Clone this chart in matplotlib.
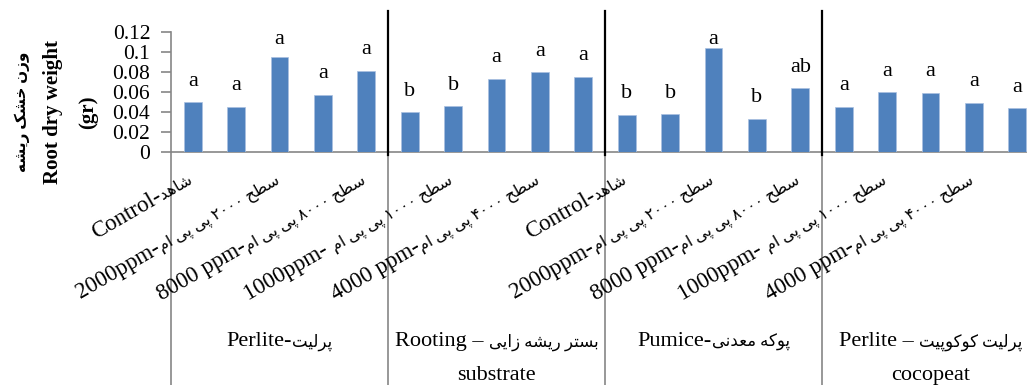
import re
import numpy as np
import matplotlib
matplotlib.use('Agg')
import matplotlib.pyplot as plt
from matplotlib.transforms import offset_copy

plt.rcParams['font.family'] = ['Liberation Serif', 'DejaVu Sans']

# substrates (latin part, persian part, second line)
group_latin = ['Perlite-', 'Rooting – ', 'Pumice-', 'Perlite – ']
group_fa = ['پرلیت', 'بستر ریشه زایی', 'پوکه معدنی', 'پرلیت کوکوپیت']
group_line2 = ['', 'substrate', '', 'cocopeat']

# treatments inside each substrate
cat_latin = ['Control-', '1000ppm- ', '2000ppm-', '4000 ppm-', '8000 ppm-']
cat_fa = ['شاهد', 'سطح ۱۰۰۰ پی پی ام', 'سطح ۲۰۰۰ پی پی ام',
          'سطح ۴۰۰۰ پی پی ام', 'سطح ۸۰۰۰ پی پی ام']

perlite = [0.050, 0.045, 0.095, 0.057, 0.081]
rooting = [0.040, 0.046, 0.073, 0.080, 0.075]
pumice = [0.037, 0.038, 0.104, 0.033, 0.064]
perlite_coco = [0.045, 0.060, 0.059, 0.049, 0.044]

letters_perlite = ['a', 'a', 'a', 'a', 'a']
letters_rooting = ['b', 'b', 'a', 'a', 'a']
letters_pumice = ['b', 'b', 'a', 'b', 'ab']
letters_perlite_coco = ['a', 'a', 'a', 'a', 'a']

yticks = [0, 0.02, 0.04, 0.06, 0.08, 0.1, 0.12]
ytick_labels = ['0', '0.02', '0.04', '0.06', '0.08', '0.1', '0.12']

ylabel_fa = 'وزن خشک ریشه'
ylabel_en = 'Root dry weight'
ylabel_unit = '(gr)'

# --- minimal persian shaping: (isolated, final, initial, medial)
FORMS = {
    'ا': (0xFE8D, 0xFE8E), 'د': (0xFEA9, 0xFEAA), 'ر': (0xFEAD, 0xFEAE),
    'ز': (0xFEAF, 0xFEB0), 'و': (0xFEED, 0xFEEE),
    'ب': (0xFE8F, 0xFE90, 0xFE91, 0xFE92), 'پ': (0xFB56, 0xFB57, 0xFB58, 0xFB59),
    'ت': (0xFE95, 0xFE96, 0xFE97, 0xFE98), 'ح': (0xFEA1, 0xFEA2, 0xFEA3, 0xFEA4),
    'خ': (0xFEA5, 0xFEA6, 0xFEA7, 0xFEA8), 'س': (0xFEB1, 0xFEB2, 0xFEB3, 0xFEB4),
    'ش': (0xFEB5, 0xFEB6, 0xFEB7, 0xFEB8), 'ط': (0xFEC1, 0xFEC2, 0xFEC3, 0xFEC4),
    'ع': (0xFEC9, 0xFECA, 0xFECB, 0xFECC), 'ک': (0xFB8E, 0xFB8F, 0xFB90, 0xFB91),
    'ل': (0xFEDD, 0xFEDE, 0xFEDF, 0xFEE0), 'م': (0xFEE1, 0xFEE2, 0xFEE3, 0xFEE4),
    'ن': (0xFEE5, 0xFEE6, 0xFEE7, 0xFEE8), 'ه': (0xFEE9, 0xFEEA, 0xFEEB, 0xFEEC),
    'ی': (0xFBFC, 0xFBFD, 0xFBFE, 0xFBFF),
}


def fa(text):
    out = []
    for i, ch in enumerate(text):
        f = FORMS.get(ch)
        if f is None:
            out.append(ch)
            continue
        prev = text[i - 1] if i > 0 else ''
        nxt = text[i + 1] if i + 1 < len(text) else ''
        join_prev = prev in FORMS and len(FORMS[prev]) == 4
        join_next = nxt in FORMS and len(f) == 4
        if join_prev and join_next:
            code = f[3]
        elif join_prev:
            code = f[1]
        elif join_next:
            code = f[2]
        else:
            code = f[0]
        out.append(chr(code))
    vis = ''.join(out)[::-1]
    # digits keep left-to-right order
    return re.sub(r'[0-9۰-۹]+', lambda m: m.group()[::-1], vis)


values = perlite + rooting + pumice + perlite_coco
letters = letters_perlite + letters_rooting + letters_pumice + letters_perlite_coco
n_cat = len(cat_latin)
x = np.arange(len(values))

W, H = 1027, 385
fig = plt.figure(figsize=(W / 100, H / 100), dpi=100)
ax = fig.add_axes([171 / W, (H - 152) / H, 868 / W, 120 / H])
renderer = fig.canvas.get_renderer()


def width_px(s, fs, **kw):
    t = fig.text(0, 0, s, fontsize=fs, **kw)
    w = t.get_window_extent(renderer).width
    t.remove()
    return w


def rotated_label(xd, ya, latin, persian, trans, rot, fs_lat, fs_fa):
    # persian part ends at the anchor, latin part continues before it
    ax.text(xd, ya, persian, transform=trans, rotation=rot, rotation_mode='anchor',
            ha='right', va='baseline', fontsize=fs_fa)
    w = width_px(persian, fs_fa)
    a = np.deg2rad(rot)
    tr = offset_copy(trans, fig=fig, x=-w * np.cos(a), y=-w * np.sin(a), units='dots')
    ax.text(xd, ya, latin, transform=tr, rotation=rot, rotation_mode='anchor',
            ha='right', va='baseline', fontsize=fs_lat)


def centered_label(xd, ya, latin, persian, trans, fs_lat, fs_fa):
    wl = width_px(latin, fs_lat)
    wf = width_px(persian, fs_fa)
    left = -(wl + wf) / 2
    ax.text(xd, ya, latin, transform=offset_copy(trans, fig=fig, x=left, y=0, units='dots'),
            ha='left', va='baseline', fontsize=fs_lat)
    ax.text(xd, ya, persian, transform=offset_copy(trans, fig=fig, x=left + wl, y=0, units='dots'),
            ha='left', va='baseline', fontsize=fs_fa)


ax.bar(x, values, width=0.41, color='#4f81bd', edgecolor='#a9c0e0', linewidth=0.5, zorder=3)
for xi, v, t in zip(x, values, letters):
    ax.text(xi, min(v + 0.021, 0.113), t, ha='center', va='center', fontsize=16)

ax.set_xlim(-0.5, len(values) - 0.5)
ax.set_ylim(0, 0.12)
ax.set_yticks(yticks)
ax.set_yticklabels(ytick_labels, fontsize=15.5)
ax.set_xticks([])
for s in ['top', 'right']:
    ax.spines[s].set_visible(False)
for s in ['left', 'bottom']:
    ax.spines[s].set_color('#868686')
    ax.spines[s].set_linewidth(1.2)
ax.tick_params(axis='y', length=7, color='#868686', width=1.2, pad=8)

xt = ax.get_xaxis_transform()
n_grp = len(group_latin)
# black separators above the axis, grey ones below it
for g in range(1, n_grp):
    ax.plot([g * n_cat - 0.5] * 2, [-0.003, 0.141], color='black', lw=1.6, clip_on=False, zorder=4)
for g in range(n_grp):
    ax.plot([g * n_cat - 0.5] * 2, [0, -2.0], color='#868686', lw=1.2, clip_on=False, transform=xt)

# category labels, every second one
for i in range(0, len(values), 2):
    c = i % n_cat
    rotated_label(i + 0.02, -0.255, cat_latin[c], fa(cat_fa[c]), xt, 30, 16.5, 11.5)

# substrate labels
for g in range(n_grp):
    xc = g * n_cat + (n_cat - 1) / 2
    centered_label(xc, -1.62, group_latin[g], fa(group_fa[g]), xt, 16, 12)
    if group_line2[g]:
        ax.text(xc, -1.90, group_line2[g], transform=xt, ha='center', va='baseline', fontsize=16)

fig.text(22 / W, 1 - 112 / H, fa(ylabel_fa), rotation=90, ha='center', va='center',
         fontsize=11, fontweight='bold')
fig.text(53 / W, 1 - 112 / H, ylabel_en, rotation=90, ha='center', va='center',
         fontsize=15, fontweight='bold')
fig.text(88 / W, 1 - 112 / H, ylabel_unit, rotation=90, ha='center', va='center',
         fontsize=15, fontweight='bold')

fig.savefig('out.png', dpi=100)
